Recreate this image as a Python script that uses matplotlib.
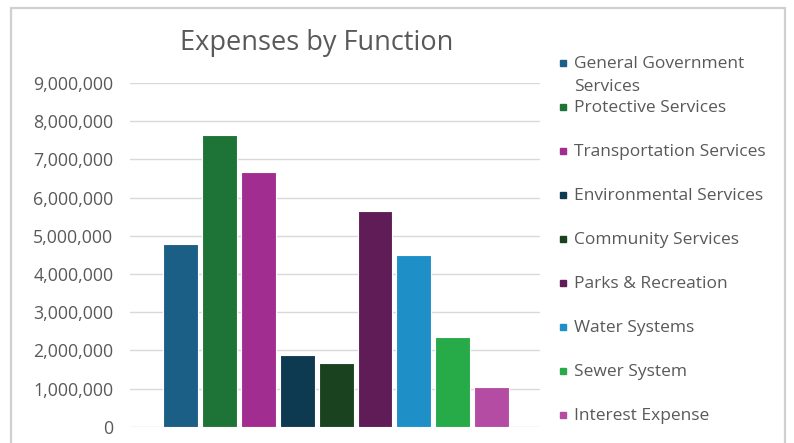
import matplotlib
matplotlib.use("Agg")
import matplotlib.pyplot as plt
from matplotlib.patches import Rectangle
from matplotlib.ticker import FuncFormatter

# Expenses by function, one bar per category
categories = [
    "General Government\nServices",
    "Protective Services",
    "Transportation Services",
    "Environmental Services",
    "Community Services",
    "Parks & Recreation",
    "Water Systems",
    "Sewer System",
    "Interest Expense",
]
expenses = [4780000, 7650000, 6660000, 1870000, 1660000, 5650000, 4490000, 2350000, 1050000]
colors = ["#1b5f87", "#1e7336", "#a22d90", "#0d3a50", "#1a421e", "#5f1c57",
          "#1f8fc8", "#27aa48", "#b44ca3"]
yticks = list(range(0, 9000001, 1000000))

W, H = 794, 443
plt.rcParams["font.family"] = ["Open Sans", "DejaVu Sans"]
text_color = "#595959"

fig = plt.figure(figsize=(W / 100, H / 100), dpi=100)
fig.patch.set_facecolor("white")

def fx(px):
    return px / W

def fy(py):
    return 1 - py / H

# plot area
left, right, top, bottom = 130, 540, 83, 426.7
ax = fig.add_axes([fx(left), fy(bottom), fx(right - left), (bottom - top) / H])

xs = list(range(len(expenses)))
ax.bar(xs, expenses, width=0.9, color=colors, edgecolor="white", linewidth=0.8, zorder=2)

ax.set_xlim(-1.31, 9.25)
ax.set_ylim(0, 9000000)
ax.set_yticks(yticks)
ax.yaxis.set_major_formatter(FuncFormatter(lambda v, p: f"{int(v):,}"))
ax.tick_params(axis="y", length=0, pad=12, labelsize=12.8, labelcolor=text_color)
ax.set_xticks([])
ax.grid(axis="y", color="#d9d9d9", linewidth=1.0, zorder=0)
for s in ax.spines.values():
    s.set_visible(False)

# title
fig.text(fx(317), fy(43), "Expenses by Function", ha="center", va="center",
         fontsize=19.5, color=text_color)

# legend drawn by hand: square key plus label
for i, (name, c) in enumerate(zip(categories, colors)):
    cy = 63 + 44 * i
    fig.patches.append(Rectangle((fx(560), fy(cy + 3)), fx(6), 6 / H, color=c,
                                 transform=fig.transFigure, figure=fig))
    fig.text(fx(574), fy(cy - 7), name, ha="left", va="top", fontsize=12.5,
             color=text_color, linespacing=1.55)

# outer chart border
fig.patches.append(Rectangle((fx(11), fy(460)), fx(774), 452 / H, fill=False,
                             edgecolor="#d0d0d0", linewidth=1.6,
                             transform=fig.transFigure, figure=fig))

fig.savefig("out.png", dpi=100)
